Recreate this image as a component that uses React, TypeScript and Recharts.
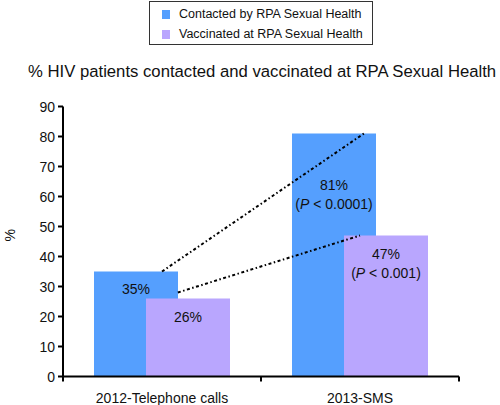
import React from "react";
import { ComposedChart, Bar, XAxis, YAxis, ReferenceLine, LabelList, Legend } from "recharts";

const categories = ["2012-Telephone calls", "2013-SMS"];
const positions = [0.5, 1.5];
const contacted = [35, 81];
const vaccinated = [26, 47];
const contactedText = ["35%", "81%"];
const vaccinatedText = ["26%", "47%"];
const contactedP = ["", "0.0001"];
const vaccinatedP = ["", "0.001"];
const yTicks = [0, 10, 20, 30, 40, 50, 60, 70, 80, 90];
const xTicks = [0, 0.5, 1, 1.5, 2];

// trend lines, x in group units (0..2), y in %
const contactedTrend = [
  { x: 0.5, y: 35 },
  { x: 1.52, y: 81 },
];
const vaccinatedTrend = [
  { x: 0.58, y: 28 },
  { x: 1.5, y: 47 },
];

const BLUE = "#559ffe";
const PURPLE = "#b9a6fe";
const FONT = '"Liberation Sans", Arial, Helvetica, sans-serif';

const data = categories.map((name, i) => ({
  name,
  pos: positions[i],
  contacted: contacted[i],
  vaccinated: vaccinated[i],
}));

const makeLabel = (texts: string[], pvals: string[], drops: number[]) => (props: any) => {
  const { x, y, width, index } = props;
  const cx = Number(x) + Number(width) / 2;
  const top = Number(y) + drops[index];
  return (
    <g>
      <text x={cx} y={top} textAnchor="middle" dominantBaseline="central" fontSize={14} fill="#111" fontFamily={FONT}>
        {texts[index]}
      </text>
      {pvals[index] ? (
        <text x={cx} y={top + 18.5} textAnchor="middle" dominantBaseline="central" fontSize={14} fill="#111" fontFamily={FONT}>
          (<tspan fontStyle="italic">P</tspan> &lt; {pvals[index]})
        </text>
      ) : null}
    </g>
  );
};

// group edges get a tick mark, group centres get the category name
const XTick = (props: any) => {
  const { x, y, payload } = props;
  const v = Number(payload.value);
  if (Number.isInteger(v)) {
    return <line x1={x} x2={x} y1={y} y2={y + 5} stroke="#000" strokeWidth={2} />;
  }
  return (
    <text x={x} y={y + 21.5} textAnchor="middle" dominantBaseline="central" fontSize={14} fill="#111" fontFamily={FONT}>
      {categories[Math.floor(v)]}
    </text>
  );
};

// the built-in y axis line never showed up, so the top tick draws the spine
// down to where the 0 tick was rendered
let zeroTickY: number | null = null;

const YTick = (props: any) => {
  const { x, y, payload } = props;
  const v = Number(payload.value);
  if (v === yTicks[0]) zeroTickY = Number(y);
  const isTop = v === yTicks[yTicks.length - 1];
  return (
    <g>
      {isTop && zeroTickY != null ? (
        <line x1={x} x2={x} y1={zeroTickY + 1} y2={y} stroke="#000" strokeWidth={2} />
      ) : null}
      <line x1={x - 5} x2={x} y1={y} y2={y} stroke="#000" strokeWidth={2} />
      <text x={x - 8} y={y} textAnchor="end" dominantBaseline="central" fontSize={14} fill="#111" fontFamily={FONT}>
        {payload.value}
      </text>
    </g>
  );
};

const LegendBox = () => (
  <div style={{ position: "relative", width: 500, height: 90, fontFamily: FONT }}>
    <div
      style={{
        position: "absolute",
        left: 149,
        top: 1,
        width: 224,
        height: 44,
        boxSizing: "border-box",
        border: "1.5px solid #333",
        background: "#fff",
      }}
    >
      {[
        { name: "Contacted by RPA Sexual Health", color: BLUE, top: 5 },
        { name: "Vaccinated at RPA Sexual Health", color: PURPLE, top: 25 },
      ].map((it) => (
        <div key={it.name} style={{ position: "absolute", left: 12, top: it.top, display: "flex", alignItems: "center", height: 14 }}>
          <span style={{ display: "inline-block", width: 8, height: 9, background: it.color, marginRight: 9 }} />
          <span style={{ fontSize: 12.5, color: "#111", whiteSpace: "nowrap" }}>{it.name}</span>
        </div>
      ))}
    </div>
    <div style={{ position: "absolute", left: 28, top: 62, fontSize: 16.7, color: "#111", whiteSpace: "nowrap" }}>
      % HIV patients contacted and vaccinated at RPA Sexual Health
    </div>
  </div>
);

export default function App() {
  return (
    <div style={{ position: "absolute", left: 0, top: 0, width: 500, height: 405, background: "#fff", fontFamily: FONT }}>
      <ComposedChart width={500} height={405} data={data} margin={{ top: 16.5, right: 41, bottom: 0, left: 0 }} barSize={84} barGap={-32}>
        <Legend verticalAlign="top" content={<LegendBox />} wrapperStyle={{ top: 0, left: 0, width: 500, height: 90 }} />
        <XAxis
          dataKey="pos"
          type="number"
          domain={[0, 2]}
          allowDataOverflow
          ticks={xTicks}
          interval={0}
          height={28.5}
          tickSize={0}
          tickMargin={0}
          tickLine={false}
          stroke="#000"
          axisLine={{ stroke: "#000", strokeWidth: 2 }}
          tick={<XTick />}
        />
        <YAxis
          domain={[0, 90]}
          ticks={yTicks}
          interval={0}
          width={63}
          tickSize={0}
          tickMargin={0}
          tickLine={false}
          axisLine={false}
          tick={<YTick />}
          label={{ value: "%", angle: -90, position: "insideLeft", offset: 10, style: { fontSize: 14, fill: "#111", fontFamily: FONT } }}
        />
        <Bar dataKey="contacted" fill={BLUE} isAnimationActive={false}>
          <LabelList dataKey="contacted" content={makeLabel(contactedText, contactedP, [17, 51.5])} />
        </Bar>
        <Bar dataKey="vaccinated" fill={PURPLE} isAnimationActive={false}>
          <LabelList dataKey="vaccinated" content={makeLabel(vaccinatedText, vaccinatedP, [18, 18.5])} />
        </Bar>
        <ReferenceLine segment={contactedTrend} stroke="#000" strokeWidth={2} strokeDasharray="3 2.5 1.5 2.5" ifOverflow="visible" />
        <ReferenceLine segment={vaccinatedTrend} stroke="#000" strokeWidth={2} strokeDasharray="3 2.5 1.5 2.5" ifOverflow="visible" />
      </ComposedChart>
    </div>
  );
}
